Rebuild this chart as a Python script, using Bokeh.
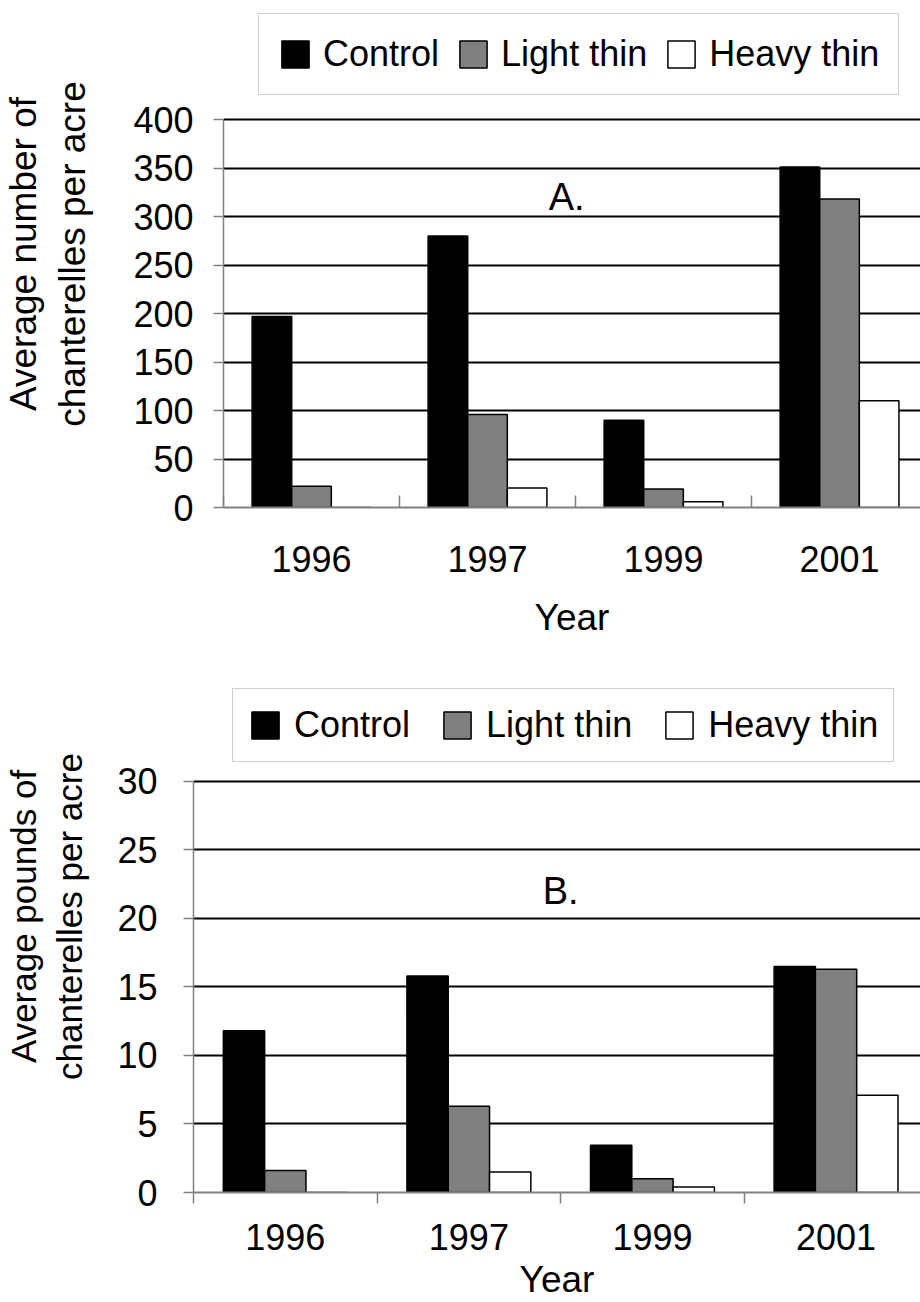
from bokeh.plotting import figure
from bokeh.models import Range1d, FixedTicker, Legend, LegendItem, Label
from bokeh.embed import file_html
from bokeh.resources import INLINE

# ---- data ----
years = ["1996", "1997", "1999", "2001"]
series_names = ["Control", "Light thin", "Heavy thin"]
series_fill = ["#000000", "#808080", "#ffffff"]

count_control = [197, 280, 90, 351]
count_light = [22, 96, 19, 318]
count_heavy = [0, 20, 6, 110]

pounds_control = [11.8, 15.8, 3.45, 16.5]
pounds_light = [1.6, 6.3, 1.0, 16.3]
pounds_heavy = [0.0, 1.5, 0.4, 7.1]

count_ticks = [0, 50, 100, 150, 200, 250, 300, 350, 400]
pounds_ticks = [0, 5, 10, 15, 20, 25, 30]

FONT = "Liberation Sans"
BAR_W = 0.225
OFFSETS = [-BAR_W, 0.0, BAR_W]


def make_chart(values, ticks, ytop, ylabel, ylabel_size, letter, letter_x, letter_y,
               height, border_bottom, border_left,
               inside_ticks, label_standoff, year_standoff,
               ytick_standoff, ytitle_standoff,
               legend_loc, legend_pad, legend_standoff, legend_spacing):
    # the frame reaches the top of the figure so the legend above the
    # plotted area stays inside it; the axis itself stops at the last tick
    p = figure(width=920, height=height, output_backend="svg", toolbar_location=None,
               x_range=Range1d(0, 3.96), y_range=Range1d(0, ytop),
               min_border_left=border_left, min_border_right=0,
               min_border_top=0, min_border_bottom=border_bottom)
    p.outline_line_color = None
    p.background_fill_color = "white"
    p.border_fill_color = "white"

    renderers = []
    for k, vals in enumerate(values):
        xs = [i + 0.5 + OFFSETS[k] for i in range(len(years))]
        r = p.vbar(x=xs, top=vals, bottom=0, width=BAR_W,
                   fill_color=series_fill[k], line_color="#000000",
                   line_width=1.5)
        renderers.append(r)

    # x axis: labels at category centres, ticks at category boundaries
    xa = p.xaxis[0]
    xa.ticker = FixedTicker(ticks=[i + 0.5 for i in range(len(years))],
                            minor_ticks=[float(i) for i in range(len(years) + 1)])
    xa.major_label_overrides = {i + 0.5: y for i, y in enumerate(years)}
    xa.major_tick_line_color = None
    xa.major_tick_in = 0
    xa.major_tick_out = 0 if inside_ticks else 11
    xa.minor_tick_line_color = "#808080"
    xa.minor_tick_line_width = 1.5
    if inside_ticks:
        xa.minor_tick_in = 12
        xa.minor_tick_out = 0
    else:
        xa.minor_tick_in = 0
        xa.minor_tick_out = 11
    xa.axis_line_color = "#808080"
    xa.axis_line_width = 2
    xa.major_label_text_font = FONT
    xa.major_label_text_font_size = "36px"
    xa.major_label_text_color = "black"
    xa.major_label_standoff = label_standoff
    xa.axis_label = "Year"
    xa.axis_label_text_font = FONT
    xa.axis_label_text_font_size = "37px"
    xa.axis_label_text_font_style = "normal"
    xa.axis_label_text_color = "black"
    xa.axis_label_standoff = year_standoff

    ya = p.yaxis[0]
    ya.ticker = FixedTicker(ticks=ticks)
    ya.bounds = (ticks[0], ticks[-1])
    ya.major_tick_in = 0
    ya.major_tick_out = 10
    ya.major_tick_line_color = "#808080"
    ya.major_tick_line_width = 1.5
    ya.minor_tick_line_color = None
    ya.axis_line_color = "#808080"
    ya.axis_line_width = 1.5
    ya.major_label_text_font = FONT
    ya.major_label_text_font_size = "36px"
    ya.major_label_text_color = "black"
    ya.major_label_standoff = ytick_standoff
    ya.axis_label = ylabel
    ya.axis_label_text_font = FONT
    ya.axis_label_text_font_size = ylabel_size
    ya.axis_label_text_font_style = "normal"
    ya.axis_label_text_color = "black"
    ya.axis_label_standoff = ytitle_standoff

    p.xgrid.grid_line_color = None
    p.ygrid.ticker = FixedTicker(ticks=ticks)
    p.ygrid.grid_line_color = "black"
    p.ygrid.grid_line_width = 2

    p.add_layout(Label(x=letter_x, y=letter_y, text=letter, text_align="center",
                       text_baseline="middle", text_font=FONT,
                       text_font_size="38px", text_color="black"))

    legend = Legend(items=[LegendItem(label=n, renderers=[r])
                           for n, r in zip(series_names, renderers)],
                    orientation="horizontal", location=legend_loc)
    legend.label_text_font = FONT
    legend.label_text_font_size = "36px"
    legend.label_text_color = "black"
    # bar legend swatches are drawn at 80% of the glyph box -> 27px squares
    legend.glyph_width = 34
    legend.glyph_height = 34
    legend.label_standoff = legend_standoff
    legend.spacing = legend_spacing
    legend.padding = legend_pad
    legend.margin = 0
    legend.border_line_color = "#a0a0a0"
    legend.border_line_width = 1.5
    legend.background_fill_color = "white"
    legend.background_fill_alpha = 1.0
    p.add_layout(legend)
    return p


pA = make_chart([count_control, count_light, count_heavy], count_ticks, 522.7,
                "Average number of\nchanterelles per acre", "37px", "A.", 1.95, 320,
                height=640, border_bottom=133, border_left=223,
                inside_ticks=True, label_standoff=38, year_standoff=22,
                ytick_standoff=20, ytitle_standoff=37,
                legend_loc=(35, 412), legend_pad=19,
                legend_standoff=11, legend_spacing=17)

pB = make_chart([pounds_control, pounds_light, pounds_heavy], pounds_ticks, 40.29,
                "Average pounds of\nchanterelles per acre", "35px", "B.", 2.0, 22,
                height=662, border_bottom=110, border_left=193,
                inside_ticks=False, label_standoff=20, year_standoff=6,
                ytick_standoff=26, ytitle_standoff=25,
                legend_loc=(39, 430), legend_pad=15,
                legend_standoff=12, legend_spacing=30)

open("out.html", "w").write(file_html([pA, pB], INLINE))
